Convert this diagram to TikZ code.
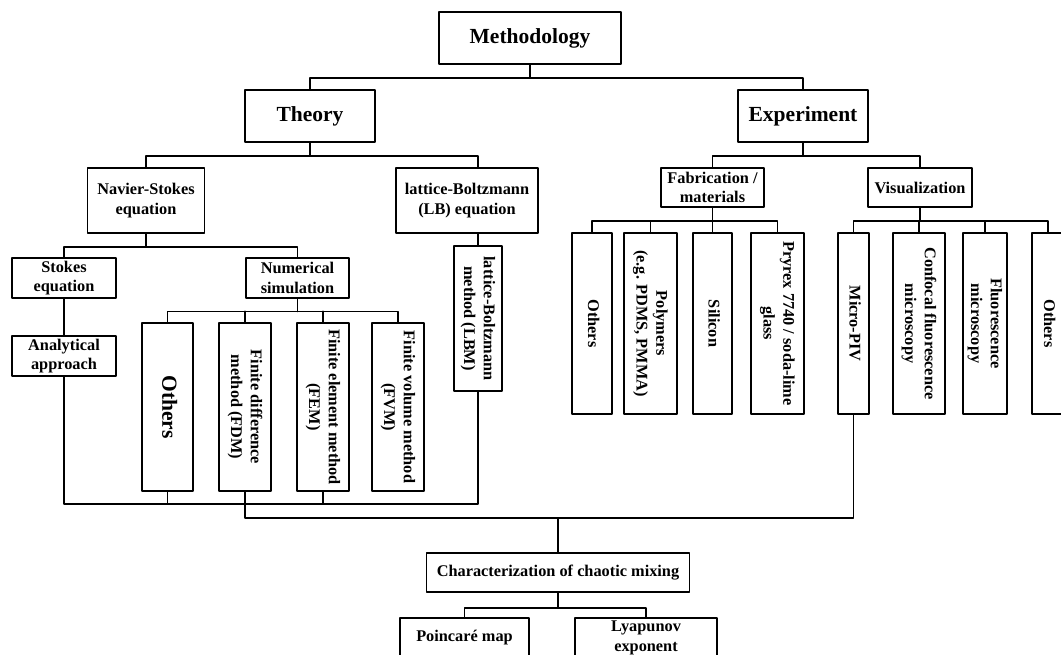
\documentclass[tikz,border=0pt]{standalone}
\usepackage{fontspec}
\setmainfont{Liberation Serif}
\usepackage{tikz}
\newcommand{\vtext}[1]{\rotatebox{-90}{\begin{tabular}{@{}c@{}}#1\end{tabular}}}
\tikzset{
  box/.style={draw, line width=1.3pt, inner sep=0pt, align=center, font=\bfseries\fontsize{11.6}{14}\selectfont},
  bigbox/.style={box, font=\bfseries\fontsize{15.3}{18}\selectfont},
  dims/.style 2 args={minimum width=#1*0.025cm, minimum height=#2*0.025cm},
  wire/.style={line width=1.3pt}
}
\begin{document}
\begin{tikzpicture}[line cap=round,line join=round,x=0.025cm,y=-0.025cm]
\useasboundingbox (0,0) rectangle (1061,654);
\clip (0,0) rectangle (1061,654);
% top levels
\node[bigbox,dims={182}{52}] (meth) at (530,38) {Methodology};
\node[bigbox,dims={130}{52}] (theo) at (310,116) {Theory};
\node[bigbox,dims={130}{52}] (exp) at (803,116) {Experiment};
% theory branch
\node[box,dims={117}{65}] (ns) at (146,200.5) {Navier-Stokes\\equation};
\node[box,dims={142}{65}] (lb) at (467,200.5) {lattice-Boltzmann\\(LB) equation};
\node[box,dims={104}{40}] (stk) at (64,278) {Stokes\\equation};
\node[box,dims={103}{40}] (num) at (297.5,278) {Numerical\\simulation};
\node[box,dims={104}{40}] (ana) at (64,356) {Analytical\\approach};
\node[bigbox,dims={51}{168}] (oth1) at (167.5,407) {\vtext{Others}};
\node[box,dims={52}{168}] (fdm) at (245,407) {\vtext{Finite difference\\method (FDM)}};
\node[box,dims={52}{168}] (fem) at (323,407) {\vtext{Finite element method\\(FEM)}};
\node[box,dims={52}{168}] (fvm) at (398,407) {\vtext{Finite volume method\\(FVM)}};
\node[box,dims={48}{145}] (lbm) at (478,318.5) {\vtext{lattice-Boltzmann\\method (LBM)}};
% experiment branch
\node[box,dims={103}{39}] (fab) at (712.5,187.5) {Fabrication /\\materials};
\node[box,dims={104}{39}] (vis) at (920,187.5) {Visualization};
\node[box,dims={40}{181}] (oth2) at (592,323.5) {\vtext{Others}};
\node[box,dims={53}{181}] (pol) at (650.5,323.5) {\vtext{Polymers\\(e.g. PDMS, PMMA)}};
\node[box,dims={39}{181}] (sil) at (712.5,323.5) {\vtext{Silicon}};
\node[box,dims={53}{181}] (pyr) at (777.5,323.5) {\vtext{Pryrex 7740 / soda-lime\\glass}};
\node[box,dims={31}{181}] (piv) at (853.5,323.5) {\vtext{Micro-PIV}};
\node[box,dims={52}{181}] (conf) at (919,323.5) {\vtext{Confocal fluorescence\\microscopy}};
\node[box,dims={44}{181}] (flu) at (985,323.5) {\vtext{Fluorescence\\microscopy}};
\node[box,dims={32}{181}] (oth3) at (1048,323.5) {\vtext{Others}};
% characterization
\node[box,dims={263}{39}] (char) at (558,572.5) {Characterization of chaotic mixing};
\node[box,dims={129}{40}] (poin) at (464.5,638) {Poincaré map};
\node[box,dims={142}{40}] (lya) at (646,638) {Lyapunov\\exponent};
% connectors
\draw[wire] (meth.south) -- ++(0,13) coordinate (b0);
\draw[wire] (theo.north) |- (b0) -| (exp.north);
\draw[wire] (theo.south) -- ++(0,13) coordinate (b1);
\draw[wire] (ns.north) |- (b1) -| (lbm.north |- lb.north);
\draw[wire] (lbm.north |- lb.south) -- (lbm.north);
\draw[wire] (ns.south) -- ++(0,13) coordinate (b2);
\draw[wire] (stk.north) |- (b2) -| (num.north);
\draw[wire] (stk.south) -- (ana.north);
\draw[wire] (num.south) -- ++(0,12.5) coordinate (b3);
\draw[wire] (oth1.north) |- (b3) -| (fvm.north);
\foreach \n in {fdm,fem}
  \draw[wire] (\n.north) -- (\n.north |- b3);
\draw[wire] (exp.south) -- ++(0,13) coordinate (b4);
\draw[wire] (fab.north) |- (b4) -| (vis.north);
\draw[wire] (fab.south) -- ++(0,13) coordinate (b5);
\draw[wire] (oth2.north) |- (b5) -| (pyr.north);
\foreach \n in {pol,sil}
  \draw[wire] (\n.north) -- (\n.north |- b5);
\draw[wire] (vis.south) -- ++(0,13) coordinate (b6);
\draw[wire] (piv.north) |- (b6) -| (oth3.north);
\foreach \n in {conf,flu}
  \draw[wire] (\n.north) -- (\n.north |- b6);
% lower buses
\coordinate (b7) at (0,504);
\coordinate (b8) at (0,518);
\draw[wire] (ana.south) |- (b7 -| lbm.south) -- (lbm.south);
\foreach \n in {oth1,fem}
  \draw[wire] (\n.south) -- (\n.south |- b7);
\draw[wire] (fdm.south) |- (b8 -| piv.south) -- (piv.south);
\draw[wire] (char.north) -- (char.north |- b8);
\draw[wire] (char.south) -- ++(0,15) coordinate (b9);
\draw[wire] (poin.north) |- (b9) -| (lya.north);
\end{tikzpicture}
\end{document}
